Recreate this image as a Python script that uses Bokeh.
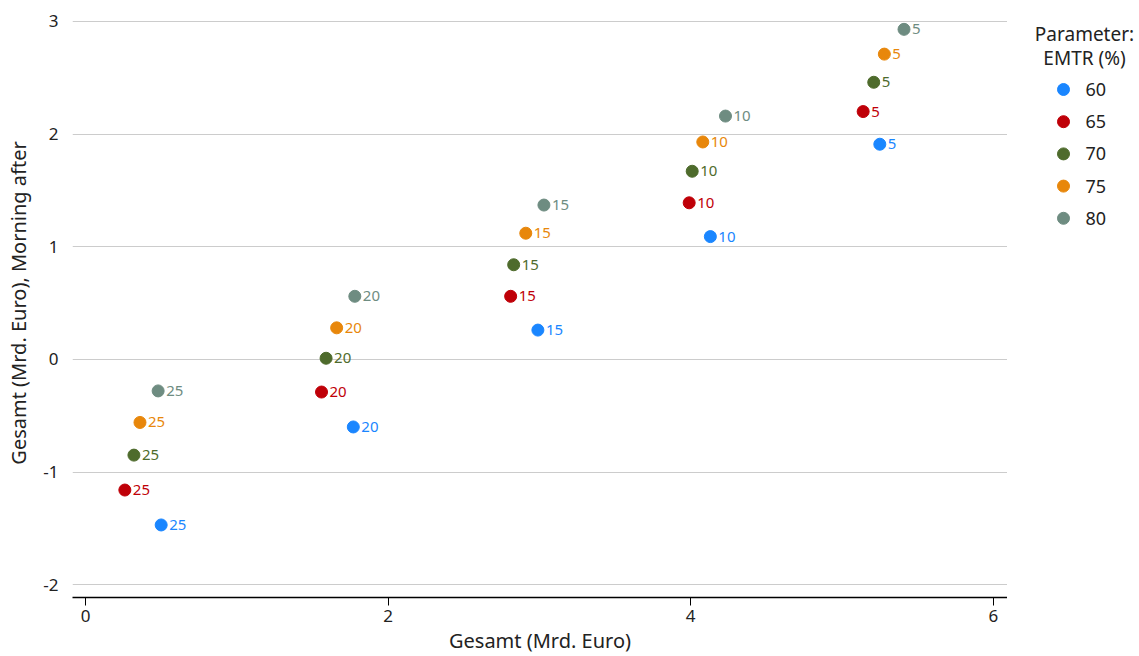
from bokeh.plotting import figure
from bokeh.layouts import row
from bokeh.models import Range1d, ColumnDataSource, FixedTicker, CustomJSTickFormatter
from bokeh.core.properties import value
from bokeh.embed import file_html
from bokeh.resources import INLINE

emtr = ["60", "65", "70", "75", "80"]
colors = ["#1a86ff", "#bf0008", "#4e6b2c", "#e8870b", "#6e8c81"]
labels = ["25", "20", "15", "10", "5"]
x_60 = [0.50, 1.77, 2.99, 4.13, 5.25]
y_60 = [-1.47, -0.60, 0.26, 1.09, 1.91]
x_65 = [0.26, 1.56, 2.81, 3.99, 5.14]
y_65 = [-1.16, -0.29, 0.56, 1.39, 2.20]
x_70 = [0.32, 1.59, 2.83, 4.01, 5.21]
y_70 = [-0.85, 0.01, 0.84, 1.67, 2.46]
x_75 = [0.36, 1.66, 2.91, 4.08, 5.28]
y_75 = [-0.56, 0.28, 1.12, 1.93, 2.71]
x_80 = [0.48, 1.78, 3.03, 4.23, 5.41]
y_80 = [-0.28, 0.56, 1.37, 2.16, 2.93]
legend_title = ["Parameter:", "EMTR (%)"]

xs = [x_60, x_65, x_70, x_75, x_80]
ys = [y_60, y_65, y_70, y_75, y_80]

FONT = "Noto Sans"
TXT = "#222222"

p = figure(width=1007, height=656, output_backend="svg", toolbar_location=None,
           x_range=Range1d(-0.086, 6.094), y_range=Range1d(-2.114, 3.115),
           min_border_left=72, min_border_right=0, min_border_top=8, min_border_bottom=59)
p.outline_line_color = None
p.background_fill_color = "white"

p.xgrid.grid_line_color = None
p.ygrid.grid_line_color = "#cccccc"
p.ygrid.grid_line_width = 1

p.xaxis.ticker = FixedTicker(ticks=[0, 2, 4, 6])
p.yaxis.ticker = FixedTicker(ticks=[-2, -1, 0, 1, 2, 3])
p.xaxis.formatter = CustomJSTickFormatter(code="return tick.toString();")
p.yaxis.formatter = CustomJSTickFormatter(code="return tick.toString();")
p.xaxis.axis_label = "Gesamt (Mrd. Euro)"
p.yaxis.axis_label = "Gesamt (Mrd. Euro), Morning after"
for ax in (p.xaxis[0], p.yaxis[0]):
    ax.axis_label_text_font = FONT
    ax.axis_label_text_font_size = "20px"
    ax.axis_label_text_font_style = "normal"
    ax.axis_label_text_color = TXT
    ax.major_label_text_font = FONT
    ax.major_label_text_font_size = "17px"
    ax.major_label_text_color = TXT
    ax.minor_tick_line_color = None
p.xaxis.axis_line_color = "black"
p.xaxis.axis_line_width = 1.5
p.xaxis.major_tick_line_color = "black"
p.xaxis.major_tick_in = 0
p.xaxis.major_tick_out = 8
p.xaxis.major_label_standoff = 4
p.xaxis.axis_label_standoff = 2
p.yaxis.axis_line_color = None
p.yaxis.major_tick_line_color = None
p.yaxis.major_tick_out = 0
p.yaxis.major_tick_in = 0
p.yaxis.major_label_standoff = 14
p.yaxis.axis_label_standoff = 8

for col, xv, yv in zip(colors, xs, ys):
    src = ColumnDataSource(dict(x=xv, y=yv, lab=labels))
    p.scatter("x", "y", source=src, size=12, fill_color=col, line_color=col)
    p.text("x", "y", text="lab", source=src, x_offset=8, text_baseline="middle",
           text_align="left", text_color=col, text_font=value(FONT), text_font_size="15px")

# legend panel: its own small figure; its frame is aligned with the main frame
# (page rows 8..597), so y values below are page pixel rows
lg = figure(width=132, height=656, output_backend="svg", toolbar_location=None,
            x_range=Range1d(0, 132), y_range=Range1d(597, 8),
            min_border=0, x_axis_type=None, y_axis_type=None)
lg.outline_line_color = None
lg.xgrid.grid_line_color = None
lg.ygrid.grid_line_color = None

pitch = 32.2
item_y = [89 + i * pitch for i in range(len(emtr))]
lsrc = ColumnDataSource(dict(x=[56] * len(emtr), tx=[78] * len(emtr), y=item_y,
                             c=colors, lab=emtr))
lg.scatter("x", "y", source=lsrc, size=12, fill_color="c", line_color="c")
lg.text("tx", "y", text="lab", source=lsrc, text_baseline="middle", text_align="left",
        text_color=TXT, text_font=value(FONT), text_font_size="18px")
tsrc = ColumnDataSource(dict(x=[77] * len(legend_title), y=[33, 57], t=legend_title))
lg.text("x", "y", text="t", source=tsrc, text_baseline="middle", text_align="center",
        text_color=TXT, text_font=value(FONT), text_font_size="19px")

layout = row(p, lg, spacing=0)
open("out.html", "w").write(file_html(layout, INLINE))
